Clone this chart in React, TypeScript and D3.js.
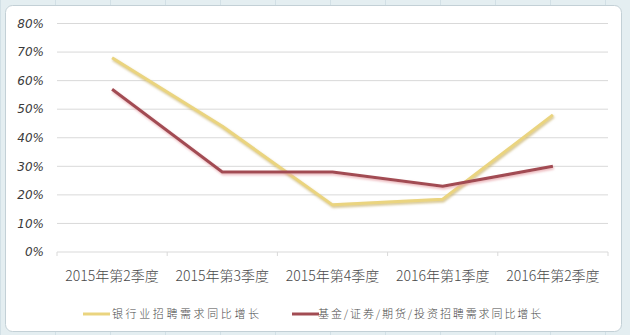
import React from "react";
import * as d3 from "d3";

const categories = ["2015年第2季度", "2015年第3季度", "2015年第4季度", "2016年第1季度", "2016年第2季度"];
const bankSeries = [68, 44, 16.5, 18.5, 48];
const fundSeries = [57, 28, 28, 23, 30];
const yTicks = [0, 10, 20, 30, 40, 50, 60, 70, 80];
const seriesNames = ["银行业招聘需求同比增长", "基金/证券/期货/投资招聘需求同比增长"];
const seriesColors = ["#EAD47F", "#A24C53"];
const shadowColors = ["#C9B26A", "#E7A3A8"];

const W = 630;
const H = 335;
const plot = { left: 57, right: 608, top: 23.5, bottom: 252 };

export default function App() {
  const x = d3.scaleBand<string>().domain(categories).range([plot.left, plot.right]);
  const y = d3.scaleLinear().domain([0, 80]).range([plot.bottom, plot.top]);
  const line = d3
    .line<number>()
    .x((_, i) => (x(categories[i]) as number) + x.bandwidth() / 2)
    .y((d) => y(d));
  const series = [bankSeries, fundSeries];
  const boundaries = [...categories.map((c) => x(c) as number), plot.right];

  const legendItems = [
    { lx: 83, tx: 112, ls: 2.6 },
    { lx: 292, tx: 318, ls: 1.9 },
  ];

  return (
    <div style={{ position: "fixed", left: 0, top: 0 }}>
      <svg width={W} height={H} style={{ display: "block" }}>
        <defs>
          {series.map((_, i) => (
            <filter key={i} id={`sh${i}`} x="-10%" y="-10%" width="120%" height="130%">
              <feDropShadow dx="0.8" dy="1.6" stdDeviation="0.8" floodColor={shadowColors[i]} floodOpacity="0.8" />
            </filter>
          ))}
        </defs>
        <rect x={0} y={0} width={W} height={H} fill="#e4eef1" />
        {d3.range(0, W, 55).map((gx) => (
          <line key={gx} x1={gx + 0.5} x2={gx + 0.5} y1={0} y2={H} stroke="#d2e0e6" />
        ))}
        <rect x={5.5} y={5.5} width={616} height={326} rx={7} fill="#ffffff" stroke="#c3d0d6" />
        {yTicks.map((t) => (
          <line key={t} x1={plot.left} x2={plot.right} y1={y(t)} y2={y(t)} stroke="#d9d9d9" strokeWidth={1} />
        ))}
        {boundaries.map((bx, i) => (
          <line key={i} x1={bx} x2={bx} y1={plot.bottom} y2={plot.bottom + 4} stroke="#d9d9d9" />
        ))}
        {yTicks.map((t) => (
          <text
            key={t}
            x={44}
            y={y(t)}
            dy="0.35em"
            textAnchor="end"
            fontFamily="DejaVu Sans"
            fontStyle="italic"
            fontSize={12}
            fill="#3a3a3a"
          >
            {t}%
          </text>
        ))}
        {categories.map((c) => (
          <text
            key={c}
            x={(x(c) as number) + x.bandwidth() / 2}
            y={276}
            dy="0.35em"
            textAnchor="middle"
            fontFamily="Noto Sans CJK SC"
            fontWeight={300}
            fontSize={14}
            fill="#4a4a4a"
          >
            {c}
          </text>
        ))}
        {series.map((s, i) => (
          <path
            key={i}
            d={line(s) as string}
            fill="none"
            stroke={seriesColors[i]}
            strokeWidth={3}
            strokeLinejoin="round"
            filter={`url(#sh${i})`}
          />
        ))}
        {legendItems.map((it, i) => (
          <g key={i}>
            <line x1={it.lx} x2={it.lx + 27} y1={314} y2={314} stroke={seriesColors[i]} strokeWidth={3} />
            <text
              x={it.tx}
              y={314}
              dy="0.35em"
              fontFamily="Noto Sans CJK SC"
              fontWeight={300}
              fontSize={11}
              letterSpacing={it.ls}
              fill="#4a4a4a"
            >
              {seriesNames[i]}
            </text>
          </g>
        ))}
      </svg>
    </div>
  );
}
